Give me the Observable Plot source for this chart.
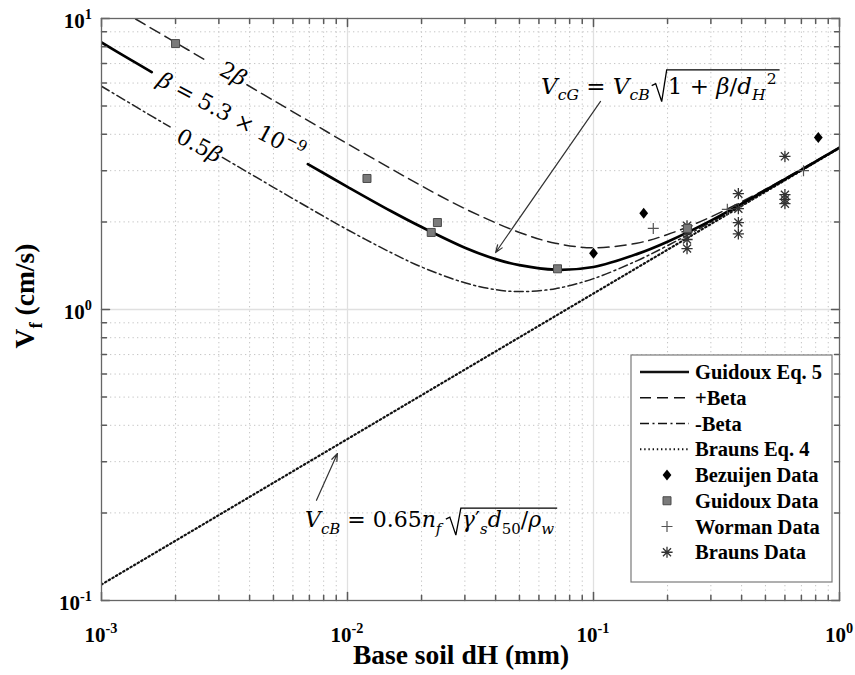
<!DOCTYPE html>
<html><head><meta charset="utf-8">
<script src="https://cdn.jsdelivr.net/npm/d3@7"></script>
<script src="https://cdn.jsdelivr.net/npm/@observablehq/plot@0.6"></script>
<style>html,body{margin:0;padding:0;background:#fff;} svg{display:block}</style>
</head><body><div id="chart"></div>
<script>
// ---------- data ----------
// Guidoux Eq. 5 (beta = 5.3e-9); NaN marks the break left for the inline label
const eq5D = [0.001, 0.0013, 0.0016, 0.003, 0.0069, 0.01, 0.015, 0.02, 0.03, 0.04, 0.05, 0.07, 0.1, 0.15, 0.2, 0.3, 0.5, 0.7, 1];
const eq5V = [8.27, 7.25, 6.54, NaN, 3.16, 2.64, 2.18, 1.92, 1.63, 1.49, 1.42, 1.37, 1.40, 1.55, 1.71, 2.02, 2.57, 3.02, 3.60];
// +Beta (2 beta)
const plusD = [0.0012, 0.0015, 0.002, 0.0027, 0.0032, 0.0039, 0.005, 0.007, 0.01, 0.015, 0.02, 0.03, 0.05, 0.07, 0.1, 0.15, 0.2, 0.3, 0.5, 0.7, 1];
const plusV = [10.67, 9.54, 8.27, 7.12, NaN, 5.92, 5.23, 4.43, 3.71, 3.05, 2.66, 2.22, 1.84, 1.69, 1.63, 1.69, 1.81, 2.08, 2.59, 3.04, 3.61];
// -Beta (0.5 beta)
const minusD = [0.001, 0.0015, 0.0019, 0.0025, 0.0031, 0.005, 0.007, 0.01, 0.015, 0.02, 0.03, 0.04, 0.05, 0.07, 0.1, 0.15, 0.2, 0.3, 0.5, 0.7, 1];
const minusV = [5.85, 4.77, 4.24, NaN, 3.33, 2.63, 2.23, 1.88, 1.57, 1.40, 1.235, 1.17, 1.152, 1.179, 1.277, 1.47, 1.658, 1.995, 2.55, 3.01, 3.595];
// Brauns Eq. 4
const braunsD = [0.001, 0.01, 0.1, 1];
const braunsV = [0.1135, 0.359, 1.135, 3.59];

// measured data
const bezD = [0.1, 0.16, 0.82];
const bezV = [1.56, 2.14, 3.90];
const guiD = [0.002, 0.012, 0.0219, 0.0232, 0.0714, 0.241];
const guiV = [8.2, 2.82, 1.84, 1.99, 1.38, 1.90];
const worD = [0.175, 0.35, 0.714];
const worV = [1.90, 2.21, 3.0];
const braD = [0.24, 0.24, 0.24, 0.24, 0.388, 0.388, 0.388, 0.388, 0.6, 0.6, 0.6, 0.6];
const braV = [1.94, 1.85, 1.74, 1.62, 2.50, 2.22, 1.99, 1.82, 3.36, 2.48, 2.39, 2.31];

// ticks
const xMajor = [0.001, 0.01, 0.1, 1];
const xMajorExp = ["-3", "-2", "-1", "0"];
const xMinor = [0.002,0.003,0.004,0.005,0.006,0.007,0.008,0.009,0.02,0.03,0.04,0.05,0.06,0.07,0.08,0.09,0.2,0.3,0.4,0.5,0.6,0.7,0.8,0.9];
const yMajor = [0.1, 1, 10];
const yMajorExp = ["-1", "0", "1"];
const yMinor = [0.2,0.3,0.4,0.5,0.6,0.7,0.8,0.9,2,3,4,5,6,7,8,9];

// legend labels
const legendLabels = ["Guidoux Eq. 5", "+Beta", "-Beta", "Brauns Eq. 4", "Bezuijen Data", "Guidoux Data", "Worman Data", "Brauns Data"];

// annotation arrows (data coordinates)
const arrowX1 = [0.1068, 0.00748];
const arrowY1 = [5.19, 0.221];
const arrowX2 = [0.04, 0.0091];
const arrowY2 = [1.57, 0.32];

// ---------- symbols ----------
const symPlus = {draw(c, s){ const r = Math.sqrt(s/Math.PI); c.moveTo(-r,0); c.lineTo(r,0); c.moveTo(0,-r); c.lineTo(0,r);} };
const symStar = {draw(c, s){ const r = Math.sqrt(s/Math.PI), q = r*0.72; c.moveTo(-r,0); c.lineTo(r,0); c.moveTo(0,-r); c.lineTo(0,r); c.moveTo(-q,-q); c.lineTo(q,q); c.moveTo(-q,q); c.lineTo(q,-q);} };
const symDiamond = {draw(c, s){ const r = Math.sqrt(s/Math.PI), w = r*0.8; c.moveTo(0,-r); c.lineTo(w,0); c.lineTo(0,r); c.lineTo(-w,0); c.closePath();} };
const symSquare = {draw(c, s){ const r = Math.sqrt(s/Math.PI); c.rect(-r,-r,2*r,2*r);} };
const tickShape = {draw(c, l){ c.moveTo(0,0); c.lineTo(0,-l);} };

const axisCol = "#5a5a5a";
const tickMarks = (vals, len) => [
  Plot.vector(vals, {x: d => d, frameAnchor: "bottom", length: len, rotate: 0, shape: tickShape, anchor: "start", stroke: axisCol}),
  Plot.vector(vals, {x: d => d, frameAnchor: "top", length: len, rotate: 180, shape: tickShape, anchor: "start", stroke: axisCol})
];
const tickMarksY = (vals, len) => [
  Plot.vector(vals, {y: d => d, frameAnchor: "left", length: len, rotate: 90, shape: tickShape, anchor: "start", stroke: axisCol}),
  Plot.vector(vals, {y: d => d, frameAnchor: "right", length: len, rotate: 270, shape: tickShape, anchor: "start", stroke: axisCol})
];

const DOT = "1.4,2.8", DASH = "11,6", DASHDOT = "9,3.5,2,3.5";

const chart = Plot.plot({
  width: 855, height: 675,
  marginLeft: 101, marginRight: 16, marginTop: 18, marginBottom: 75,
  x: {type: "log", domain: [0.001, 1], axis: null},
  y: {type: "log", domain: [0.1, 10], axis: null},
  style: {fontFamily: "Liberation Serif", background: "#fff"},
  marks: [
    Plot.ruleX(xMinor, {stroke: "#c4c4c4", strokeDasharray: "1.3,3.2"}),
    Plot.ruleY(yMinor, {stroke: "#c4c4c4", strokeDasharray: "1.3,3.2"}),
    Plot.ruleX(xMajor.slice(1, 3), {stroke: "#e0e0e0", strokeWidth: 1.3}),
    Plot.ruleY(yMajor.slice(1, 2), {stroke: "#e0e0e0", strokeWidth: 1.3}),
    Plot.line(braunsD, {x: braunsD, y: braunsV, stroke: "#111", strokeWidth: 2.2, strokeDasharray: DOT, clip: true}),
    Plot.line(minusD, {x: minusD, y: minusV, stroke: "#222", strokeWidth: 1.5, strokeDasharray: DASHDOT, curve: "catmull-rom", clip: true}),
    Plot.line(plusD, {x: plusD, y: plusV, stroke: "#222", strokeWidth: 1.5, strokeDasharray: DASH, curve: "catmull-rom", clip: true}),
    Plot.line(eq5D, {x: eq5D, y: eq5V, stroke: "#000", strokeWidth: 2.7, curve: "catmull-rom", clip: true}),
    Plot.dot(braD, {x: braD, y: braV, symbol: symStar, r: 5.6, fill: "none", stroke: "#333", strokeWidth: 1.3}),
    Plot.dot(worD, {x: worD, y: worV, symbol: symPlus, r: 5.5, fill: "none", stroke: "#555", strokeWidth: 1.2}),
    Plot.dot(guiD, {x: guiD, y: guiV, symbol: symSquare, r: 4, fill: "#7a7a7a", stroke: "#4a4a4a", strokeWidth: 1}),
    Plot.dot(bezD, {x: bezD, y: bezV, symbol: symDiamond, r: 5.5, fill: "#000", stroke: "none"}),
    Plot.arrow(arrowX1, {x1: arrowX1, y1: arrowY1, x2: arrowX2, y2: arrowY2, stroke: "#333", strokeWidth: 1.2, headLength: 10, headAngle: 40}),
    ...tickMarks(xMinor, 5), ...tickMarks(xMajor, 8),
    ...tickMarksY(yMinor, 5), ...tickMarksY(yMajor, 8),
    Plot.frame({stroke: "#666", strokeWidth: 1.3})
  ]
});
document.getElementById("chart").appendChild(chart);

// ---------- text with sub/superscripts, positioned through Plot's scales ----------
const sxS = chart.scale("x"), syS = chart.scale("y");
const sx = d3.scaleLog(sxS.domain, sxS.range);
const sy = d3.scaleLog(syS.domain, syS.range);
const svg = d3.select(chart);
const g = svg.append("g");
const MATH = "DejaVu Serif";

function rich(x, y, parts, o) {
  const t = g.append("text").attr("x", x).attr("y", y)
    .attr("text-anchor", o.anchor || "start")
    .attr("font-family", o.family || "Liberation Serif")
    .attr("font-size", o.size).attr("font-weight", o.weight || "normal").attr("fill", "#000");
  if (o.rotate) t.attr("transform", `rotate(${o.rotate},${x},${y})`);
  let cur = 0;
  for (const p of parts) {
    const shift = p.sub ? 0.3 * o.size : p.sup ? -0.42 * o.size : 0;
    const ts = t.append("tspan").text(p.t).attr("dy", shift - cur);
    if (p.dx) ts.attr("dx", p.dx);
    cur = shift;
    if (p.sub || p.sup) ts.attr("font-size", o.size * (p.scale || 0.68));
    if (p.it) ts.attr("font-style", "italic");
  }
  return t;
}

// tick labels
xMajor.forEach((v, i) => rich(sx(v), 642, [{t: "10"}, {t: xMajorExp[i], sup: true}], {size: 21, weight: "bold", anchor: "middle"}));
yMajor.forEach((v, i) => rich(92, sy(v) + 10, [{t: "10"}, {t: yMajorExp[i], sup: true}], {size: 21, weight: "bold", anchor: "end"}));

// axis titles
rich(461, 664, [{t: "Base soil dH (mm)"}], {size: 27.5, weight: "bold", anchor: "middle"});
rich(34, 296, [{t: "V"}, {t: "f", sub: true}, {t: " (cm/s)"}], {size: 27.5, weight: "bold", anchor: "middle", rotate: -90});

// rotated curve labels
rich(sx(0.00334), sy(6.45) + 7, [{t: "2"}, {t: "β", it: true}], {size: 22, family: MATH, anchor: "middle", rotate: 28});
rich(sx(0.00328), sy(4.62) + 7, [{t: "β", it: true}, {t: " = 5.3 × 10"}, {t: "−9", sup: true}], {size: 22, family: MATH, anchor: "middle", rotate: 28});
rich(sx(0.00243), sy(3.65) + 7, [{t: "0.5"}, {t: "β", it: true}], {size: 22, family: MATH, anchor: "middle", rotate: 28});

// equations with radicals
function radicalEq(x, y, left, inner, size) {
  const a = rich(x, y, left, {size, family: MATH});
  const w = a.node().getBBox().width;
  const rx = x + w + 18;
  const b = rich(rx, y, inner, {size, family: MATH});
  const bb = b.node().getBBox();
  const top = bb.y + 1;
  g.append("path").attr("fill", "none").attr("stroke", "#000").attr("stroke-width", 1.3)
    .attr("d", `M${rx-16},${y-8}L${rx-12},${y-10}L${rx-6},${y+8}L${rx-1},${top}L${bb.x + bb.width + 3},${top}`);
}
radicalEq(sx(0.0615), sy(5.5),
  [{t: "V", it: true}, {t: "cG", sub: true, it: true}, {t: " = "}, {t: "V", it: true}, {t: "cB", sub: true, it: true}],
  [{t: "1 + "}, {t: "β", it: true}, {t: "/"}, {t: "d", it: true}, {t: "H", sub: true, it: true}, {t: "2", sup: true, dx: 1}], 23);
radicalEq(sx(0.00675), sy(0.178),
  [{t: "V", it: true}, {t: "cB", sub: true, it: true}, {t: " = 0.65"}, {t: "n", it: true}, {t: "f", sub: true, it: true}],
  [{t: "γ", it: true}, {t: "′"}, {t: "s", sub: true, it: true}, {t: "d", it: true}, {t: "50", sub: true}, {t: "/"}, {t: "ρ", it: true}, {t: "w", sub: true, it: true}], 22);

// ---------- legend ----------
const L = {x: 631, y: 355, w: 201, h: 227, row0: 372, step: 25.75, lx0: 640, lx1: 689, mx: 667, tx: 695};
const lg = svg.append("g");
lg.append("rect").attr("x", L.x).attr("y", L.y).attr("width", L.w).attr("height", L.h)
  .attr("fill", "#fff").attr("stroke", "#7a7a7a").attr("stroke-width", 1.2);
const lineStyles = [
  {w: 2.7, dash: null}, {w: 1.5, dash: DASH}, {w: 1.5, dash: DASHDOT}, {w: 2.2, dash: DOT}
];
const markerStyles = [
  {sym: symDiamond, r: 5.5, fill: "#000", stroke: "none", sw: 0},
  {sym: symSquare, r: 4, fill: "#7a7a7a", stroke: "#4a4a4a", sw: 1},
  {sym: symPlus, r: 5.5, fill: "none", stroke: "#555", sw: 1.2},
  {sym: symStar, r: 5.6, fill: "none", stroke: "#333", sw: 1.3}
];
legendLabels.forEach((lab, i) => {
  const yy = L.row0 + i * L.step;
  if (i < 4) {
    const s = lineStyles[i];
    lg.append("line").attr("x1", L.lx0).attr("x2", L.lx1).attr("y1", yy).attr("y2", yy)
      .attr("stroke", "#111").attr("stroke-width", s.w).attr("stroke-dasharray", s.dash);
  } else {
    const m = markerStyles[i - 4];
    lg.append("path").attr("transform", `translate(${L.mx},${yy})`)
      .attr("d", d3.symbol(m.sym, Math.PI * m.r * m.r)())
      .attr("fill", m.fill).attr("stroke", m.stroke).attr("stroke-width", m.sw);
  }
  lg.append("text").attr("x", L.tx).attr("y", yy + 7).attr("text-anchor", "start").text(lab)
    .attr("font-family", "Liberation Serif").attr("font-weight", "bold").attr("font-size", 20.5).attr("fill", "#000");
});
</script></body></html>
